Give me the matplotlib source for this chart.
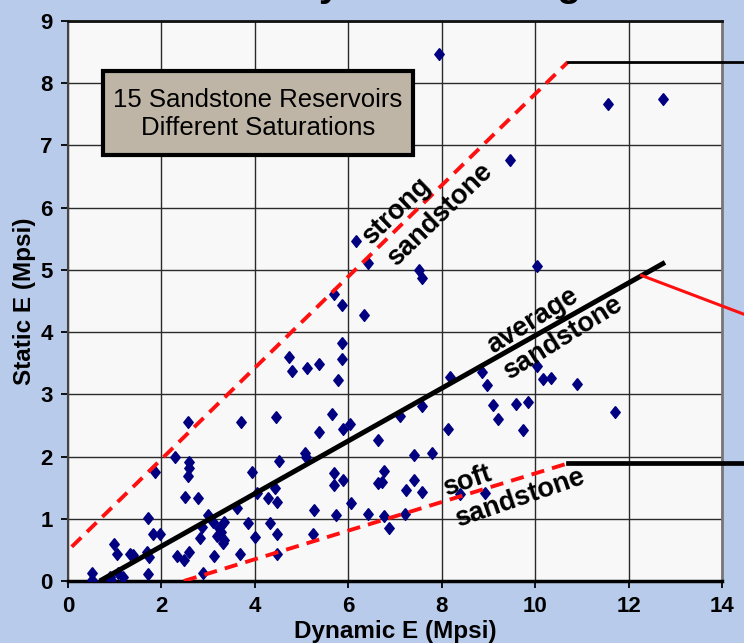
import matplotlib
matplotlib.use("Agg")
import matplotlib.pyplot as plt
from matplotlib.patches import Rectangle

plt.rcParams['font.family'] = ['Liberation Sans', 'DejaVu Sans']

# ---- data ----
dyn_e = [7.95, 11.55, 12.73, 9.46,
         6.17, 6.42, 7.52, 7.58, 10.03,
         5.70, 5.86, 6.34,
         5.86, 5.86, 4.74, 4.79, 5.12, 5.38, 5.78,
         8.17, 8.87, 8.98, 10.03, 10.16, 10.34, 10.90,
         9.09, 9.58, 9.85, 9.21, 9.74, 11.72, 8.14,
         8.39, 8.92,
         4.46, 5.66, 6.03, 5.89, 5.37, 7.10, 7.58, 6.64,
         5.07, 5.10, 4.51, 7.40, 7.80,
         5.69, 5.69, 5.89, 6.76, 6.64, 6.73, 7.40, 7.23, 7.58,
         4.43, 4.28, 4.48, 6.05, 5.27, 5.73, 6.42, 6.76, 7.22, 6.87,
         4.32, 4.47, 5.25, 4.47,
         2.56, 3.71, 2.28, 2.59, 2.59, 2.56, 1.86, 3.94,
         2.51, 2.79, 4.05,
         1.71, 3.00, 3.11, 3.33, 3.62, 3.86, 2.87, 3.24, 3.28, 3.34, 3.31, 3.20,
         2.82, 4.00, 1.83, 1.98,
         0.99, 1.05, 1.33, 1.40, 1.69, 1.73, 1.71,
         2.34, 2.48, 2.60, 3.12, 3.68, 2.88,
         0.51, 0.51, 0.93, 1.06, 1.17, 0.89]
stat_e = [8.47, 7.67, 7.75, 6.77,
          5.46, 5.11, 5.00, 4.87, 5.06,
          4.61, 4.44, 4.27,
          3.82, 3.56, 3.60, 3.38, 3.43, 3.49, 3.23,
          3.28, 3.36, 3.15, 3.46, 3.24, 3.27, 3.17,
          2.83, 2.85, 2.88, 2.60, 2.42, 2.72, 2.45,
          1.40, 1.41,
          2.63, 2.69, 2.53, 2.44, 2.39, 2.65, 2.81, 2.26,
          2.06, 1.99, 1.93, 2.02, 2.05,
          1.74, 1.54, 1.62, 1.77, 1.57, 1.59, 1.63, 1.46, 1.43,
          1.49, 1.34, 1.27, 1.25, 1.14, 1.06, 1.07, 1.04, 1.07, 0.85,
          0.93, 0.75, 0.75, 0.44,
          2.56, 2.56, 2.00, 1.92, 1.81, 1.69, 1.75, 1.75,
          1.35, 1.33, 1.42,
          1.01, 1.06, 0.95, 0.95, 1.17, 0.93, 0.87, 0.85, 0.79, 0.66, 0.61, 0.72,
          0.69, 0.71, 0.75, 0.75,
          0.59, 0.44, 0.44, 0.42, 0.47, 0.38, 0.12,
          0.40, 0.34, 0.47, 0.40, 0.44, 0.13,
          0.13, 0.02, 0.02, 0.13, 0.06, 0.07]

# trend / envelope lines (dynamic E, static E)
avg_x, avg_y = [0.68, 12.78], [0.0, 5.12]
strong_x, strong_y = [0.08, 10.7], [0.55, 8.34]
soft_x, soft_y = [2.48, 10.7], [0.0, 1.89]
strong_ext_x, strong_ext_y = [10.7, 14.6], [8.34, 8.34]
soft_ext_x, soft_ext_y = [10.7, 14.6], [1.89, 1.89]
pointer_x, pointer_y = [12.28, 14.6], [4.91, 4.25]

x_ticks = [0, 2, 4, 6, 8, 10, 12, 14]
y_ticks = [0, 1, 2, 3, 4, 5, 6, 7, 8, 9]

box_text = "15 Sandstone Reservoirs\nDifferent Saturations"
title_text = "Static vs Dynamic Young's Modulus"

# ---- figure ----
W, H = 744, 643
fig = plt.figure(figsize=(W / 100, H / 100), dpi=100, facecolor='#B9CBEB')
ax = fig.add_axes([68 / W, 62 / H, 654 / W, 560 / H], facecolor='#F8F8F8')

ax.set_xlim(0, 14)
ax.set_ylim(0, 9)
ax.set_xticks(x_ticks)
ax.set_yticks(y_ticks)
ax.grid(True, color='#2a2a2a', lw=1.0)
ax.set_axisbelow(True)

for lab in ax.get_xticklabels() + ax.get_yticklabels():
    lab.set_fontweight('bold')
ax.tick_params(axis='both', labelsize=16, length=5, width=1.3, color='black')
ax.tick_params(axis='x', pad=6)
ax.tick_params(axis='y', pad=6)

ax.spines['bottom'].set_linewidth(2.5)
ax.spines['bottom'].set_color('black')
ax.spines['top'].set_linewidth(2.0)
ax.spines['top'].set_color('#111111')
ax.spines['left'].set_linewidth(1.5)
ax.spines['left'].set_color('#444444')
ax.spines['right'].set_linewidth(2.0)
ax.spines['right'].set_color('#777777')

ax.set_xlabel('Dynamic E (Mpsi)', fontsize=17.5, fontweight='bold', labelpad=2)
ax.set_ylabel('Static E (Mpsi)', fontsize=17.5, fontweight='bold', labelpad=3)

# scatter
diamond = [(0, 1), (0.8, 0), (0, -1), (-0.8, 0), (0, 1)]
ax.plot(dyn_e, stat_e, linestyle='none', marker=diamond, markersize=8.5,
        color='#000080', zorder=4)

# lines
ax.plot(avg_x, avg_y, color='black', lw=3.6, solid_capstyle='butt', zorder=5)
ax.plot(strong_x, strong_y, color='#FF1010', lw=2.8, dashes=(3.4, 2.1), zorder=5)
ax.plot(soft_x, soft_y, color='#FF1010', lw=2.8, dashes=(3.4, 2.1), zorder=5)
ax.plot(strong_ext_x, strong_ext_y, color='black', lw=2.0, clip_on=False, zorder=5)
ax.plot(soft_ext_x, soft_ext_y, color='black', lw=3.4, clip_on=False, zorder=5)
ax.plot(pointer_x, pointer_y, color='#FF1010', lw=2.2, clip_on=False, zorder=5)

# text box
ax.add_patch(Rectangle((0.74, 6.84), 6.64, 1.35, facecolor='#BEB5A6',
                       edgecolor='black', lw=3, zorder=6))
ax.text(4.06, 7.51, box_text, ha='center', va='center', fontsize=18.5,
        linespacing=1.2, zorder=7)

# rotated annotations
def label(x, y, s, ang):
    ax.text(x, y, s, rotation=ang, rotation_mode='anchor', ha='center',
            va='center', fontsize=19.5, fontweight='bold', zorder=7)

def px(xp, yp):
    return (xp - 68.3) / 46.7, (581 - yp) / 62.3

label(*px(397, 211), 'strong', 44)
label(*px(440, 214), 'sandstone', 44)
label(*px(533, 321), 'average', 32)
label(*px(563, 338), 'sandstone', 32)
label(*px(467, 481), 'soft', 19)
label(*px(520, 498), 'sandstone', 19)

# cropped title (only descenders visible, as in the reference)
fig.text(120 / W, 1 + 4 / H, title_text, ha='left', va='baseline',
         fontsize=28, fontweight='bold')

fig.savefig('out.png', dpi=100, facecolor=fig.get_facecolor())
